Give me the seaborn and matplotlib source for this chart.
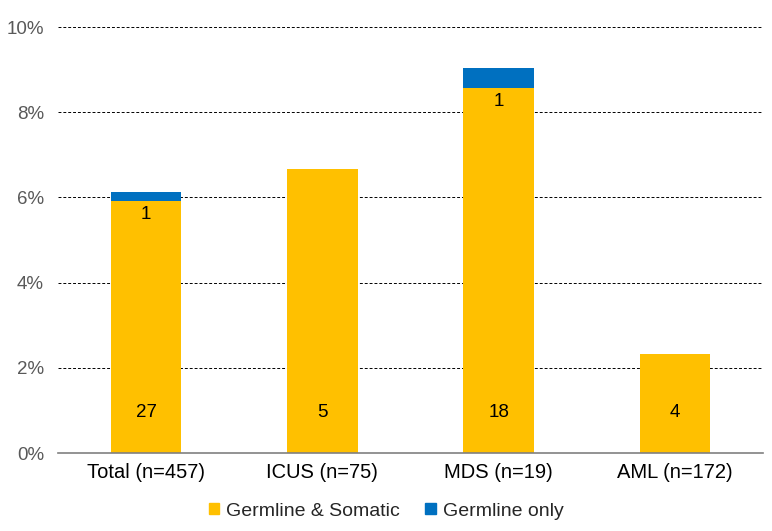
import pandas as pd
import matplotlib.pyplot as plt
import seaborn as sns
from matplotlib.ticker import PercentFormatter
from matplotlib.patches import Patch

# data
categories = ["Total (n=457)", "ICUS (n=75)", "MDS (n=19)", "AML (n=172)"]
somatic_pct = [5.92, 6.67, 8.57, 2.33]      # Germline & Somatic, %
germline_pct = [0.21, 0.0, 0.47, 0.0]       # Germline only, %
somatic_n = ["27", "5", "18", "4"]
germline_n = ["1", "", "1", ""]

YELLOW = "#FFC000"
BLUE = "#0070C0"

df = pd.DataFrame({
    "category": categories,
    "somatic": somatic_pct,
    "germline": germline_pct,
})
df["total"] = df["somatic"] + df["germline"]

sns.set_style("white")
plt.rcParams["font.family"] = ["Liberation Sans", "DejaVu Sans"]

fig = plt.figure(figsize=(7.72, 5.31), dpi=100)
ax = fig.add_axes([58 / 772, 1 - 453 / 531, 705 / 772, 426 / 531])

# stacked bars: full height in blue, then the yellow part drawn over it
sns.barplot(data=df, x="category", y="total", color=BLUE, width=0.4,
            saturation=1, linewidth=0, ax=ax, zorder=3)
sns.barplot(data=df, x="category", y="somatic", color=YELLOW, width=0.4,
            saturation=1, linewidth=0, ax=ax, zorder=3)

# counts
for i, row in df.iterrows():
    ax.text(i, 0.94, somatic_n[i], ha="center", va="center", fontsize=13.5,
            color="black", zorder=4)
    if germline_n[i]:
        ax.text(i, row["somatic"] - 0.32, germline_n[i], ha="center",
                va="center", fontsize=13.5, color="black", zorder=4)

ax.set_ylim(0, 10)
ax.set_yticks([0, 2, 4, 6, 8, 10])
ax.yaxis.set_major_formatter(PercentFormatter(decimals=0))
ax.grid(axis="y", color="black", linestyle=(0, (3, 2)), linewidth=0.7,
        zorder=0)
ax.set_xlabel("")
ax.set_ylabel("")

for side in ["top", "right", "left"]:
    ax.spines[side].set_visible(False)
ax.spines["bottom"].set_color("#808080")
ax.spines["bottom"].set_linewidth(1.2)
ax.spines["bottom"].set_zorder(5)

ax.tick_params(axis="y", labelsize=13.5, labelcolor="#595959", length=0, pad=10)
ax.tick_params(axis="x", labelsize=14.5, labelcolor="black", length=0, pad=7)

handles = [Patch(color=YELLOW, label="Germline & Somatic"),
           Patch(color=BLUE, label="Germline only")]
fig.legend(handles=handles, loc="center", bbox_to_anchor=(0.5, 1 - 511 / 531),
           ncol=2, frameon=False, fontsize=14, handlelength=0.55,
           handleheight=0.55, handletextpad=0.35, columnspacing=1.3)

fig.savefig("out.png", dpi=100)
